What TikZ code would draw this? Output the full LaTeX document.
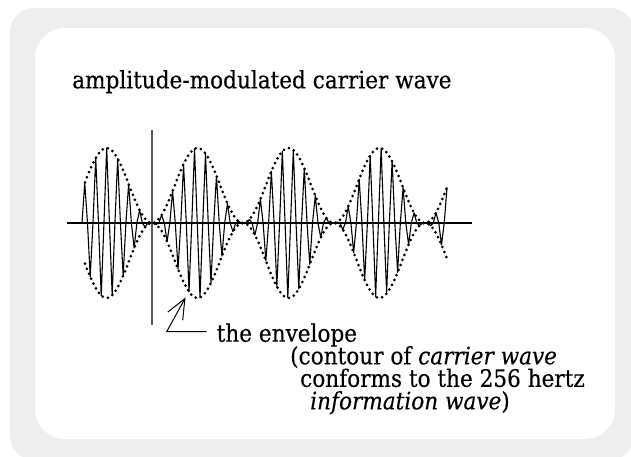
\documentclass[tikz,border=0pt]{standalone}
\usepackage{fontspec}
\setmainfont{DejaVu Serif Condensed}[FakeBold=0.3]
\usetikzlibrary{arrows.meta}
\definecolor{framegray}{RGB}{238,238,238}
\begin{document}
\begin{tikzpicture}[x=1pt,y=-1pt,
  txt/.style={font=\fontsize{24}{22.5}\selectfont, inner sep=0pt, anchor=base west},
  envdots/.style={line width=3pt, dash pattern=on 0pt off 5.4pt, line cap=round},
  carrier/.style={line width=1.1pt, line join=round},
  axisline/.style={line width=1.3pt},
  leader/.style={line width=1pt, -{Straight Barb[length=20pt,width=17pt]}},
]
\useasboundingbox (0,0) rectangle (631,457);
\fill[framegray, rounded corners=24pt] (10,8) rectangle (634,460);
\fill[white, rounded corners=30pt] (35,28) rectangle (615,439);
% axes
\draw[axisline] (67,223) -- (472,223);
\draw[line width=1.5pt, gray!70!black] (152,130) -- (152,325);
% envelope
\draw[envdots] plot[domain=85:447, samples=200] (\x, {223-37.5*(1+cos(3.95604*(\x-106.5)))});
\draw[envdots] plot[domain=85:447, samples=200] (\x, {223+37.5*(1+cos(3.95604*(\x-106.5)))});
% carrier
\draw[carrier] plot[domain=82:447, samples=134] (\x, {223-37.5*(1+cos(3.95604*(\x-106.5)))*sin(32.7959*(\x-82))});
% texts
\node[txt] (title) at (72,88.3) {amplitude-modulated carrier wave};
\node[txt] (env) at (216.5,341.7) {the envelope};
\node[txt, align=left] (note) at (290,409.3) {(contour of \textit{carrier wave}\\\hspace*{10pt}conforms to the 256 hertz\\\hspace*{20pt}\textit{information wave})};
% leader arrow
\coordinate (tip) at (185.5,297.5);
\coordinate (bend) at (166.7,331.7);
\draw[leader] ([xshift=-10pt,yshift=10pt]env.base west) -- (bend) -- (tip);
\end{tikzpicture}
\end{document}
